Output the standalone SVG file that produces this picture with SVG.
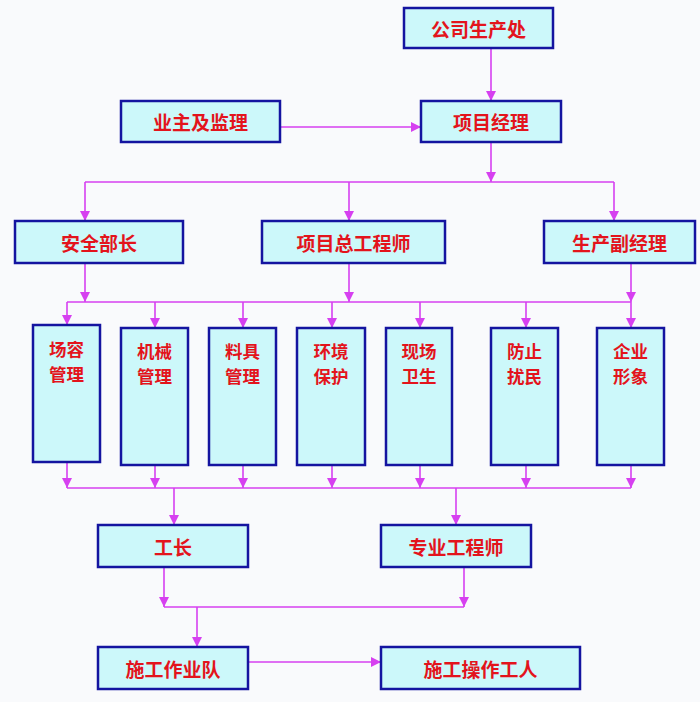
<svg xmlns="http://www.w3.org/2000/svg" width="700" height="702" viewBox="0 0 700 702">
<style>
.box{fill:#ccf8fa;stroke:#1414a0;stroke-width:2.5}
.t{font-family:"Noto Sans CJK SC","Noto Sans",sans-serif;font-weight:bold;font-size:19px;fill:#e3141c;text-anchor:middle;dominant-baseline:central}
.v{font-size:17.5px}
.c{stroke:#d640f0;stroke-width:1.6;fill:none}
.a{stroke:#d640f0;stroke-width:1.6;fill:none;marker-end:url(#ah)}
</style>
<defs>
<marker id="ah" markerUnits="userSpaceOnUse" markerWidth="10" markerHeight="10" refX="10" refY="5" orient="auto" viewBox="0 0 10 10">
<path d="M0,0 L10,5 L0,10 z" fill="#d640f0"/>
</marker>
</defs>
<rect x="0" y="0" width="700" height="702" fill="#f9fafc"/>
<g id="connectors">
<line class="a" x1="491" y1="48" x2="491" y2="101"/>
<line class="a" x1="280" y1="127" x2="421" y2="127"/>
<line class="a" x1="491" y1="142" x2="491" y2="182"/>
<line class="c" x1="85" y1="182" x2="614" y2="182"/>
<line class="a" x1="85" y1="182" x2="85" y2="221"/>
<line class="a" x1="349" y1="182" x2="349" y2="221"/>
<line class="a" x1="614" y1="182" x2="614" y2="221"/>
<line class="a" x1="85" y1="263" x2="85" y2="302"/>
<line class="a" x1="349" y1="263" x2="349" y2="302"/>
<line class="a" x1="631" y1="263" x2="631" y2="302"/>
<line class="c" x1="67" y1="302" x2="631" y2="302"/>
<line class="a" x1="67" y1="302" x2="67" y2="325"/>
<line class="a" x1="155" y1="302" x2="155" y2="328"/>
<line class="a" x1="243" y1="302" x2="243" y2="328"/>
<line class="a" x1="332" y1="302" x2="332" y2="328"/>
<line class="a" x1="420" y1="302" x2="420" y2="328"/>
<line class="a" x1="526" y1="302" x2="526" y2="328"/>
<line class="a" x1="631" y1="302" x2="631" y2="328"/>
<line class="a" x1="67" y1="462" x2="67" y2="488"/>
<line class="a" x1="155" y1="465" x2="155" y2="488"/>
<line class="a" x1="243" y1="465" x2="243" y2="488"/>
<line class="a" x1="332" y1="465" x2="332" y2="488"/>
<line class="a" x1="420" y1="465" x2="420" y2="488"/>
<line class="a" x1="526" y1="465" x2="526" y2="488"/>
<line class="a" x1="631" y1="465" x2="631" y2="488"/>
<line class="c" x1="67" y1="488" x2="631" y2="488"/>
<line class="a" x1="174" y1="488" x2="174" y2="525"/>
<line class="a" x1="456" y1="488" x2="456" y2="525"/>
<line class="a" x1="164" y1="567" x2="164" y2="607"/>
<line class="a" x1="464" y1="567" x2="464" y2="607"/>
<line class="c" x1="164" y1="607" x2="464" y2="607"/>
<line class="a" x1="197" y1="607" x2="197" y2="647"/>
<line class="a" x1="248" y1="662" x2="381" y2="662"/>
</g>
<g id="n1"><rect class="box" x="404" y="8" width="149" height="40"/><text class="t" x="478.5" y="28">公司生产处</text></g>
<g id="n2"><rect class="box" x="121" y="101" width="159" height="41"/><text class="t" x="200.5" y="121.5">业主及监理</text></g>
<g id="n3"><rect class="box" x="421" y="101" width="140" height="41"/><text class="t" x="491" y="121.5">项目经理</text></g>
<g id="n4"><rect class="box" x="15" y="221" width="168" height="42"/><text class="t" x="99" y="242">安全部长</text></g>
<g id="n5"><rect class="box" x="262" y="221" width="183" height="42"/><text class="t" x="353.5" y="242">项目总工程师</text></g>
<g id="n6"><rect class="box" x="544" y="221" width="151" height="42"/><text class="t" x="619.5" y="242">生产副经理</text></g>
<g id="n7"><rect class="box" x="33" y="325" width="67" height="137"/><text class="t v" x="66.5" y="348">场容</text><text class="t v" x="66.5" y="373.5">管理</text></g>
<g id="n8"><rect class="box" x="121" y="328" width="67" height="137"/><text class="t v" x="154.5" y="350">机械</text><text class="t v" x="154.5" y="375.5">管理</text></g>
<g id="n9"><rect class="box" x="209" y="328" width="67" height="137"/><text class="t v" x="242.5" y="350">料具</text><text class="t v" x="242.5" y="375.5">管理</text></g>
<g id="n10"><rect class="box" x="297" y="328" width="68" height="137"/><text class="t v" x="331" y="350">环境</text><text class="t v" x="331" y="375.5">保护</text></g>
<g id="n11"><rect class="box" x="386" y="328" width="66" height="137"/><text class="t v" x="419" y="350">现场</text><text class="t v" x="419" y="375.5">卫生</text></g>
<g id="n12"><rect class="box" x="491" y="328" width="67" height="137"/><text class="t v" x="524.5" y="350">防止</text><text class="t v" x="524.5" y="375.5">扰民</text></g>
<g id="n13"><rect class="box" x="597" y="328" width="67" height="137"/><text class="t v" x="630.5" y="350">企业</text><text class="t v" x="630.5" y="375.5">形象</text></g>
<g id="n14"><rect class="box" x="98" y="525" width="150" height="42"/><text class="t" x="173" y="546">工长</text></g>
<g id="n15"><rect class="box" x="381" y="525" width="150" height="42"/><text class="t" x="456" y="546">专业工程师</text></g>
<g id="n16"><rect class="box" x="98" y="647" width="150" height="42"/><text class="t" x="173" y="668">施工作业队</text></g>
<g id="n17"><rect class="box" x="381" y="647" width="199" height="42"/><text class="t" x="480.5" y="668">施工操作工人</text></g>
</svg>
